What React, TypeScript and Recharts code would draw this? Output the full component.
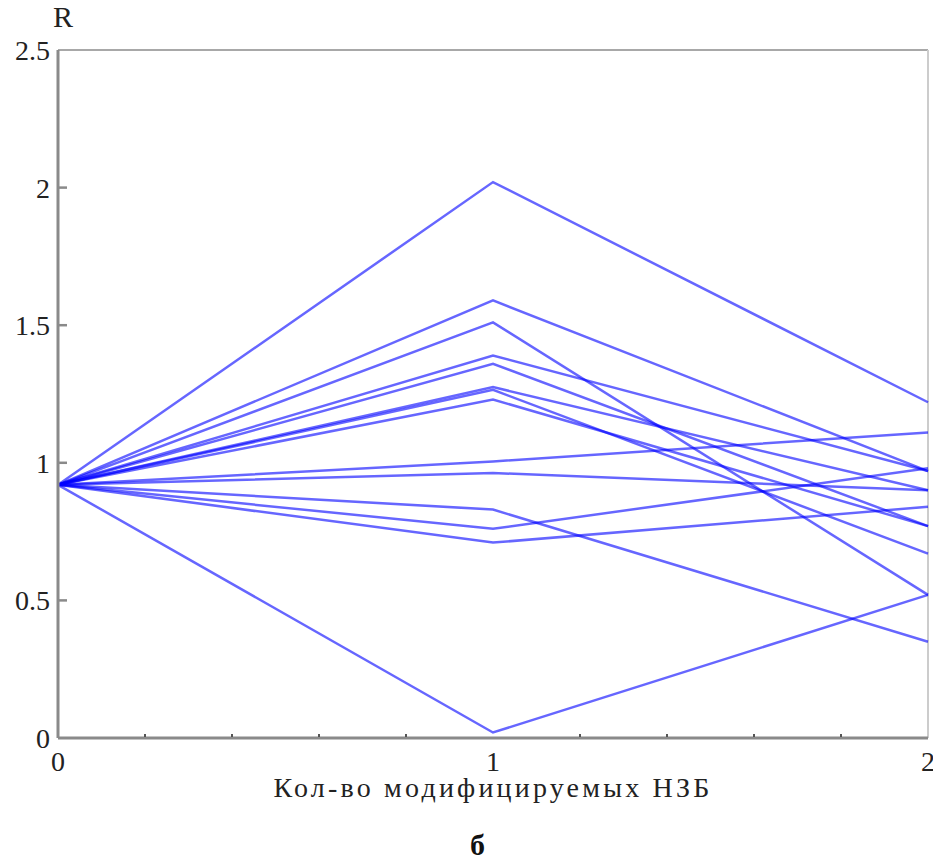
import { LineChart, Line, XAxis, YAxis, ReferenceLine, Label } from "recharts";

// x positions: number of modified НЗБ
const xSteps = [0, 1, 2];
// every run starts from the same R at x = 0
const startR = 0.92;
// R at x = 1 and x = 2, one entry per run
const midR = [2.02, 1.59, 1.51, 1.39, 1.36, 1.275, 1.265, 1.23, 1.005, 0.963, 0.83, 0.76, 0.71, 0.02];
const endR = [1.22, 0.97, 0.52, 0.97, 0.77, 0.9, 0.67, 0.77, 1.11, 0.9, 0.35, 0.98, 0.84, 0.52];

const xTicks = [0, 0.2, 0.4, 0.6, 0.8, 1, 1.2, 1.4, 1.6, 1.8, 2];
const yTicks = [0, 0.5, 1, 1.5, 2, 2.5];

const rows = xSteps.map((x, i) => {
  const row: Record<string, number> = { x };
  midR.forEach((m, k) => {
    row[`s${k}`] = [startR, m, endR[k]][i];
  });
  return row;
});

const font = "Liberation Serif";
const axisGray = "#8a8a8a";

function XTick({ x, y, payload }: any) {
  const v = payload.value;
  const major = Math.abs(v - Math.round(v)) < 1e-6;
  return (
    <g>
      {!major && <line x1={x} y1={y - 1} x2={x} y2={y - 4} stroke="#555" strokeWidth={2} />}
      {major && (
        <text x={x} y={y + 33} textAnchor="middle" style={{ fontFamily: font }} fontSize={28} fill="#222">
          {v}
        </text>
      )}
    </g>
  );
}

function YTick({ x, y, payload }: any) {
  const v = payload.value;
  return (
    <g>
      {v > 0 && v < 2.5 && <line x1={x} y1={y} x2={x + 9} y2={y} stroke={axisGray} strokeWidth={2.5} />}
      <text x={x - 8} y={y + 10} textAnchor="end" style={{ fontFamily: font }} fontSize={28} fill="#222">
        {v}
      </text>
    </g>
  );
}

export default function App() {
  return (
    <div style={{ position: "absolute", left: 0, top: 0, width: 933, height: 866, background: "#fff" }}>
      <LineChart width={933} height={866} data={rows} margin={{ top: 50, right: 5, bottom: 98, left: 8 }}>
        <ReferenceLine y={2.5} stroke="#a8a8a8" strokeWidth={2} />
        <ReferenceLine x={2} stroke="#cccccc" strokeWidth={2} />
        <XAxis
          type="number"
          dataKey="x"
          domain={[0, 2]}
          ticks={xTicks}
          interval={0}
          height={30}
          tickLine={false}
          tickSize={0}
          tickMargin={0}
          tick={<XTick />}
          axisLine={{ stroke: axisGray, strokeWidth: 3 }}
        >
          <Label
            value="Кол-во модифицируемых НЗБ"
            position="bottom"
            offset={9}
            style={{ fontFamily: font, fontSize: 28, fill: "#222", letterSpacing: 3.2 }}
          />
        </XAxis>
        <YAxis
          type="number"
          domain={[0, 2.5]}
          ticks={yTicks}
          interval={0}
          width={50}
          tickLine={false}
          tickSize={0}
          tickMargin={0}
          tick={<YTick />}
          axisLine={{ stroke: axisGray, strokeWidth: 3 }}
        />
        {midR.map((_, k) => (
          <Line
            key={k}
            type="linear"
            dataKey={`s${k}`}
            stroke="#0000ff"
            strokeOpacity={0.6}
            strokeWidth={2.5}
            dot={false}
            isAnimationActive={false}
          />
        ))}
      </LineChart>
      <div style={{ position: "absolute", left: 53, top: 0, fontFamily: font, fontSize: 30, color: "#222" }}>R</div>
      <div
        style={{ position: "absolute", left: 470, top: 828, fontFamily: font, fontSize: 30, fontWeight: "bold", color: "#111" }}
      >
        б
      </div>
    </div>
  );
}
